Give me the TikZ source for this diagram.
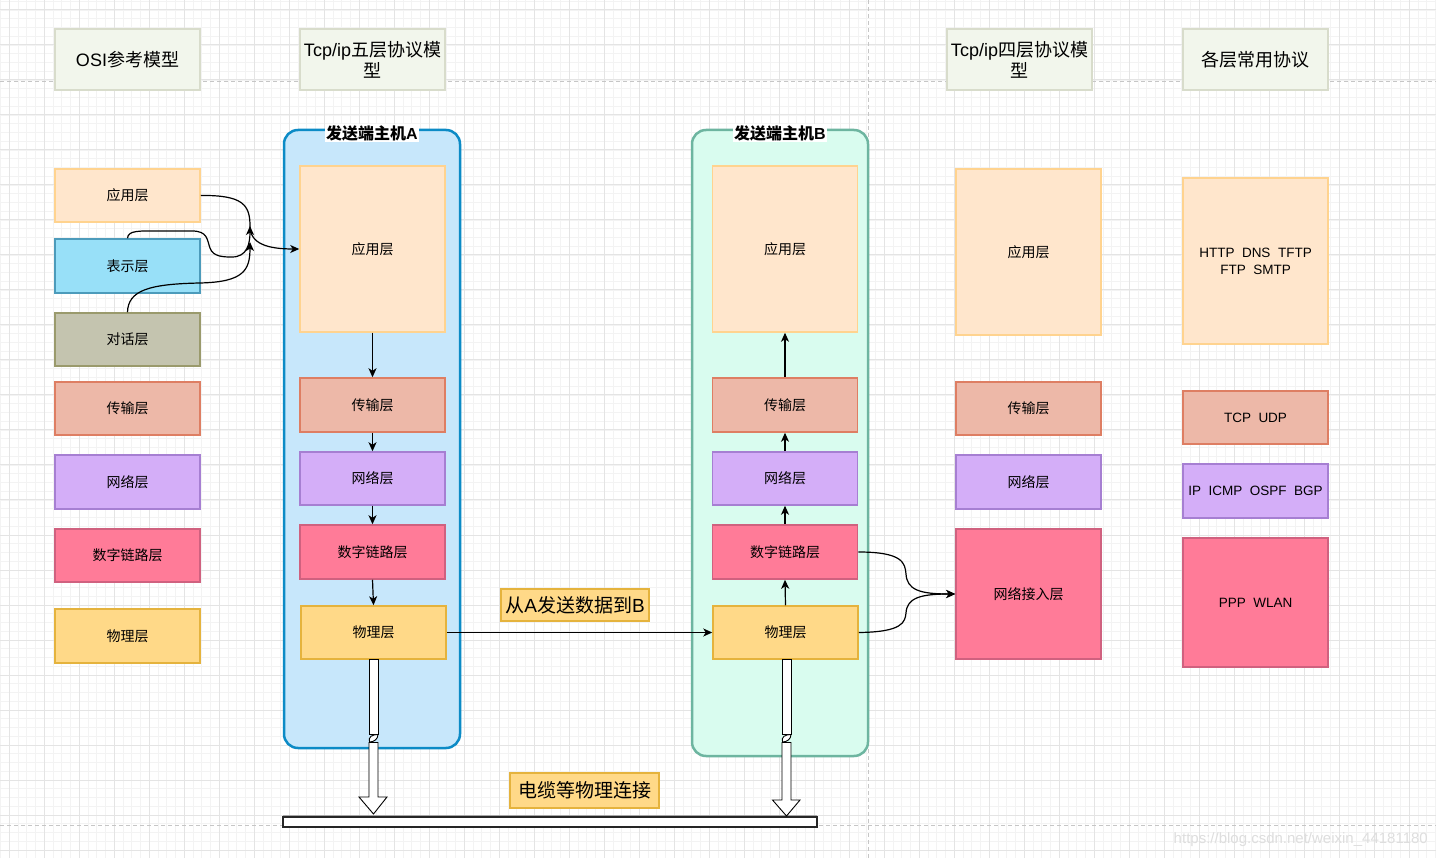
\documentclass[tikz,border=0pt]{standalone}
\usepackage{fontspec}
\setmainfont{Noto Sans CJK SC}
\newfontfamily\lat{Liberation Sans}
\usetikzlibrary{arrows.meta,calc}
\definecolor{hdrF}{HTML}{F2F6EC}
\definecolor{hdrD}{HTML}{D8DCCB}
\definecolor{appF}{HTML}{FFE6CC}
\definecolor{appD}{HTML}{FFD38F}
\definecolor{preF}{HTML}{98E0F8}
\definecolor{preD}{HTML}{4C9BBB}
\definecolor{sesF}{HTML}{C4C4AF}
\definecolor{sesD}{HTML}{9A9A6C}
\definecolor{traF}{HTML}{EDB8A8}
\definecolor{traD}{HTML}{DE7E63}
\definecolor{netF}{HTML}{D4AEF8}
\definecolor{netD}{HTML}{A67FD2}
\definecolor{lnkF}{HTML}{FF7B98}
\definecolor{lnkD}{HTML}{D0617F}
\definecolor{phyF}{HTML}{FFD988}
\definecolor{phyD}{HTML}{E5B33D}
\definecolor{boxAF}{HTML}{C7E7FB}
\definecolor{boxAD}{HTML}{0C8BC6}
\definecolor{boxBF}{HTML}{D9FCEF}
\definecolor{boxBD}{HTML}{6DB5A0}
\definecolor{gridMin}{HTML}{F3F3F3}
\definecolor{gridMaj}{HTML}{E4E4E4}
\definecolor{dashC}{HTML}{C6C6C6}
\definecolor{wmC}{HTML}{DEDEDE}
\begin{document}
\begin{tikzpicture}[x=1pt,y=-1pt,
  lay/.style={draw, line width=1.5pt, minimum width=145pt, minimum height=53pt, inner sep=0pt,
    font=\fontsize{14}{16}\selectfont, align=center},
  sHdr/.style={lay, fill=hdrF, draw=hdrD, minimum height=61pt, font=\fontsize{18}{21}\selectfont},
  sApp/.style={lay, fill=appF, draw=appD},
  sPre/.style={lay, fill=preF, draw=preD},
  sSes/.style={lay, fill=sesF, draw=sesD},
  sTra/.style={lay, fill=traF, draw=traD},
  sNet/.style={lay, fill=netF, draw=netD},
  sLnk/.style={lay, fill=lnkF, draw=lnkD},
  sPhy/.style={lay, fill=phyF, draw=phyD},
  hostbox/.style={draw, line width=2.5pt, rounded corners=14pt, minimum width=176pt, inner sep=0pt},
  hostlbl/.style={fill=white, inner sep=1pt, font=\fontsize{16}{18}\selectfont\bfseries},
  tagbox/.style={draw=phyD, fill=phyF, line width=1.3pt, inner sep=0pt, font=\fontsize{19}{21}\selectfont},
  arr/.style={line width=1.2pt, -{Stealth[length=9pt,width=8pt,inset=2.5pt]}},
  hollow/.style={draw=black, fill=white, line width=0.9pt, line join=miter},
  dashln/.style={draw=dashC, line width=1.4pt, dash pattern=on 4pt off 3pt}
]
\useasboundingbox (0,0) rectangle (1436,858);
\fill[white] (0,0) rectangle (1436,858);
\begin{scope}
\clip (0,0) rectangle (1436,858);
\foreach \k in {0,...,165} { \draw[gridMin, line width=0.8pt] ({0.55+8.75*\k},0) -- ({0.55+8.75*\k},858); }
\foreach \k in {0,...,99} { \draw[gridMin, line width=0.8pt] (0,{1.25+8.75*\k}) -- (1436,{1.25+8.75*\k}); }
\foreach \k in {0,...,41} { \draw[gridMaj, line width=1pt] ({9.3+35*\k},0) -- ({9.3+35*\k},858); }
\foreach \k in {0,...,24} { \draw[gridMaj, line width=1pt] (0,{10+35*\k}) -- (1436,{10+35*\k}); }
\end{scope}
% page-break dashed lines
\draw[dashln] (0,81.5) -- (1436,81.5);
\draw[dashln] (0,825.5) -- (1436,825.5);
\draw[dashln] (868.5,0) -- (868.5,858);

% headers
\node[sHdr] (h1) at (127.5,59.5) {{\lat OSI}参考模型};
\node[sHdr] (h2) at (372.5,59.5) {{\lat Tcp/ip}五层协议模\\型};
\node[sHdr] (h3) at (1019.5,59.5) {{\lat Tcp/ip}四层协议模\\型};
\node[sHdr] (h4) at (1255.5,59.5) {各层常用协议};

% OSI column
\node[sApp] (o1) at (127.5,195.5) {应用层};
\node[sPre, minimum height=54pt] (o2) at (127.5,266) {表示层};
\node[sSes] (o3) at (127.5,339.5) {对话层};
\node[sTra] (o4) at (127.5,408.5) {传输层};
\node[sNet, minimum height=54pt] (o5) at (127.5,482) {网络层};
\node[sLnk] (o6) at (127.5,555.5) {数字链路层};
\node[sPhy, minimum height=54pt] (o7) at (127.5,636) {物理层};

% host A
\node[hostbox, fill=boxAF, draw=boxAD, minimum height=618pt] (hA) at (372,439) {};
\node[hostlbl] (hAl) at (372,133) {发送端主机{\lat\bfseries A}};
\node[sApp, minimum height=166pt] (a1) at (372.5,249) {应用层};
\node[sTra, minimum height=54pt] (a2) at (372.5,405) {传输层};
\node[sNet] (a3) at (372.5,478.5) {网络层};
\node[sLnk, minimum height=54pt] (a4) at (372.5,552) {数字链路层};
\node[sPhy] (a5) at (373.5,632.5) {物理层};

% host B
\node[hostbox, fill=boxBF, draw=boxBD, minimum height=626pt] (hB) at (780,443) {};
\node[hostlbl] (hBl) at (780,133) {发送端主机{\lat\bfseries B}};
\node[sApp, minimum height=166pt] (b1) at (785,249) {应用层};
\node[sTra, minimum height=54pt] (b2) at (785,405) {传输层};
\node[sNet] (b3) at (785,478.5) {网络层};
\node[sLnk, minimum height=54pt] (b4) at (785,552) {数字链路层};
\node[sPhy] (b5) at (785.5,632.5) {物理层};

% four-layer column
\node[sApp, minimum height=166pt] (f1) at (1028.5,252) {应用层};
\node[sTra] (f2) at (1028.5,408.5) {传输层};
\node[sNet, minimum height=54pt] (f3) at (1028.5,482) {网络层};
\node[sLnk, minimum height=130pt] (f4) at (1028.5,594) {网络接入层};

% protocols column
\node[sApp, minimum height=166pt, font=\lat\fontsize{13.5}{17}\selectfont] (p1) at (1255.5,261) {HTTP\ \ DNS\ \ TFTP\\FTP\ \ SMTP};
\node[sTra, font=\lat\fontsize{13.5}{16}\selectfont] (p2) at (1255.5,417.5) {TCP\ \ UDP};
\node[sNet, minimum height=54pt, font=\lat\fontsize{13.5}{16}\selectfont] (p3) at (1255.5,491) {IP\ \ ICMP\ \ OSPF\ \ BGP};
\node[sLnk, minimum height=129pt, font=\lat\fontsize{13.5}{16}\selectfont] (p4) at (1255.5,602.5) {PPP\ \ WLAN};

% arrows inside hosts
\draw[arr] (a1.south) -- (a2.north);
\draw[arr] (a2.south) -- (a3.north);
\draw[arr] (a3.south) -- (a4.north);
\draw[arr] (a4.south) -- (a5.north);
\draw[arr] (b5.north) -- (b4.south);
\draw[arr] (b4.north) -- (b3.south);
\draw[arr] (b3.north) -- (b2.south);
\draw[arr] (b2.north) -- (b1.south);
\draw[arr] (a5.east) -- (b5.west);

% left curved connectors
\coordinate (j1) at (250,226);
\coordinate (j2) at (250,242);
\draw[line width=1.2pt] (o1.east) .. controls (243,195) and (250,205) .. (j1);
\draw[arr] (j1) .. controls (250,244) and (268,249) .. (a1.west);
\draw[arr] (o2.north) .. controls (128,230) and (140,231) .. (160,231) -- (192,231)
  .. controls (208,231) and (207,240) .. (210,248) .. controls (213,257) and (224,257) .. (232,257)
  .. controls (247,257) and (250,244) .. (j1);
\draw[arr] (o3.north) .. controls (128,290) and (150,284) .. (200,283)
  .. controls (244,282) and (250,270) .. (j2);

% right curved connectors
\draw[arr] (b4.east) .. controls (903,552) and (905,563) .. (906,574)
  .. controls (907,590) and (920,594) .. (f4.west);
\draw[arr] (b5.east) .. controls (903,632) and (905,622) .. (906,613)
  .. controls (907,598) and (920,594) .. (f4.west);

% tags
\node[tagbox, minimum width=148pt, minimum height=32pt] (t1) at (575,605) {从{\lat A}发送数据到{\lat B}};
\node[tagbox, minimum width=149pt, minimum height=35pt] (t2) at (584.5,790.5) {电缆等物理连接};

% cable
\draw[gray!70, line width=2pt] (283,815.8) -- (817,815.8);
\node[draw=black!85, fill=white, line width=1.2pt, minimum width=534pt, minimum height=10pt, inner sep=0pt] (cab) at (550,822) {};

% hollow arrows A
\draw[hollow] (369,659) rectangle (378,734);
\draw[line width=0.9pt, fill=white] (369.5,742) .. controls (368,737) and (372,734.5) .. (378,734.5) .. controls (378,739) and (374,742) .. (369.5,742);
\draw[hollow] (369,742.5) -- (369,797) -- (359,797) -- (373.5,814) -- (387,797) -- (378,797) -- (378,742.5) -- cycle;
% hollow arrows B
\draw[hollow] (782,659) rectangle (791,734);
\draw[line width=0.9pt, fill=white] (782.5,742) .. controls (781,737) and (785,734.5) .. (791,734.5) .. controls (791,739) and (787,742) .. (782.5,742);
\draw[hollow] (782,742.5) -- (782,800) -- (772.5,800) -- (786.5,816) -- (800,800) -- (791,800) -- (791,742.5) -- cycle;

% watermark
\node[text=wmC, font=\lat\fontsize{15}{17}\selectfont, anchor=east, inner sep=0pt] (wm) at (1428,840) {https://blog.csdn.net/weixin\_44181180};
\end{tikzpicture}
\end{document}
